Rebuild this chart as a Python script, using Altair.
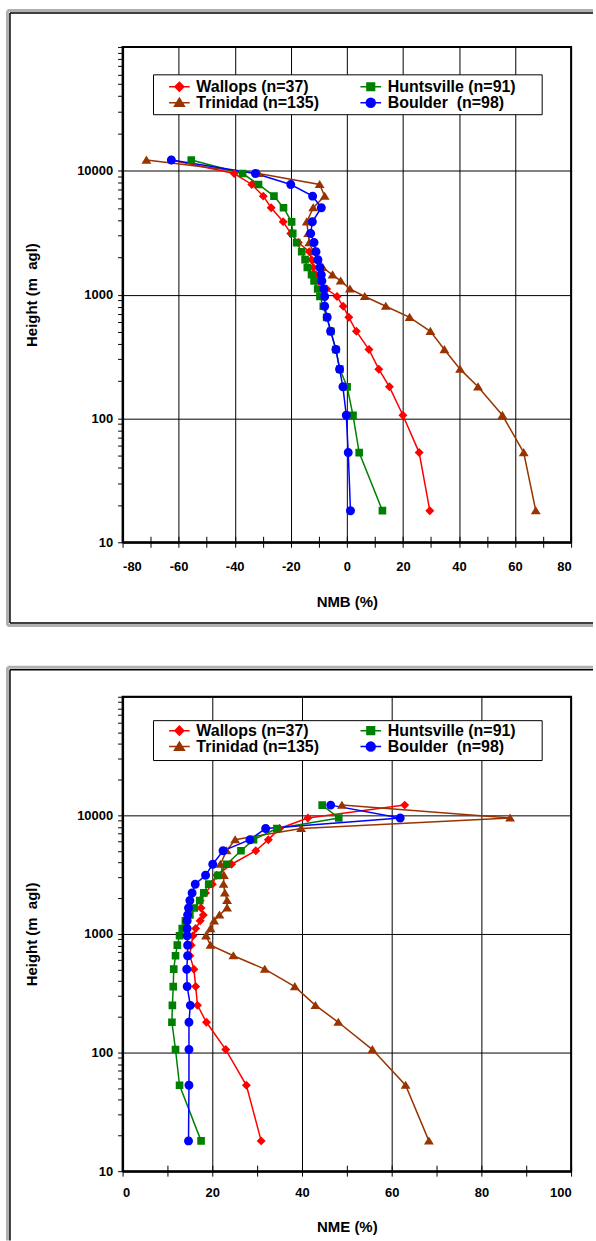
import altair as alt
import pandas as pd

FONT = "Liberation Sans"

# Profile levels (m agl), bottom to top
heights = [18, 53, 106, 180, 250, 360, 505, 655, 805, 965, 1110, 1290, 1445,
           1655, 1915, 2220, 2630, 3120, 3870, 5030, 6240, 7750, 9500, 12200]

# legend fills column by column: Wallops, Trinidad | Huntsville, Boulder
series_names = ["Wallops (n=37)", "Trinidad (n=135)", "Huntsville (n=91)", "Boulder\u00a0 (n=98)"]
series_colors = ["#FF0000", "#993300", "#008000", "#0000FF"]
# marker outline + a horizontal stub (the stub has no area, so it only shows where stroked: in the legend)
series_shapes = [
    "M-2.3,0H2.3M0,-1L1,0L0,1L-1,0Z",
    "M-2.3,0H2.3M0,-1L1.1,0.8L-1.1,0.8Z",
    "M-2.3,0H2.3M-0.85,-0.85H0.85V0.85H-0.85Z",
    "M-2.3,0H2.3M1,0A1,1,0,1,1,-1,0A1,1,0,1,1,1,0Z",
]

# NMB (%) per level
nmb_wallops = [29.6, 25.8, 20.0, 15.2, 11.4, 7.9, 3.4, 0.7, -1.3, -3.5, -7.2, -10.0, -11.0,
               -12.0, -12.6, -13.4, -17.3, -20.0, -22.7, -27.0, -29.8, -33.9, -40.2, -62.6]
nmb_huntsville = [12.7, 4.4, 2.2, 0.1, -2.5, -3.9, -5.7, -7.2, -8.4, -9.6, -10.4, -11.7, -12.6,
                  -14.1, -14.9, -16.1, -17.9, -19.3, -19.7, -22.6, -26.0, -31.5, -37.2, -55.5]
nmb_trinidad = [67.4, 63.1, 55.5, 46.8, 40.4, 34.8, 29.8, 22.4, 13.9, 6.4, 1.1, -2.2, -5.1,
                -8.6, -10.5, -12.0, -13.4, -13.8, -14.3, -12.0, -7.9, -9.7, -31.5, -71.5]
nmb_boulder = [1.3, 0.5, -0.2, -1.4, -2.6, -3.9, -5.8, -7.0, -7.9, -7.9, -8.2, -8.9, -9.1,
               -9.6, -10.3, -11.0, -11.7, -12.9, -12.3, -9.1, -12.2, -20.0, -32.6, -62.6]

# NME (%) per level
nme_wallops = [30.9, 27.6, 23.0, 18.7, 16.7, 16.3, 15.9, 15.0, 15.3, 15.7, 16.3, 17.3, 18.0,
               17.5, 17.3, 18.5, 20.0, 21.0, 24.3, 29.7, 32.5, 35.0, 41.3, 62.9]
nme_huntsville = [17.5, 12.7, 11.8, 11.0, 11.1, 11.3, 11.4, 11.8, 12.2, 12.7, 13.3, 14.0, 15.0,
                  16.0, 17.2, 18.1, 19.2, 21.3, 23.2, 26.4, 29.2, 34.4, 48.2, 44.5]
nme_trinidad = [68.3, 63.1, 55.7, 48.1, 43.0, 38.4, 31.7, 24.7, 19.6, 18.6, 19.6, 20.4, 21.6,
                23.3, 23.3, 22.8, 22.5, 22.6, 21.8, 23.2, 25.1, 39.8, 86.4, 48.9]
nme_boulder = [14.7, 14.8, 14.8, 14.8, 15.1, 14.4, 14.3, 14.5, 14.5, 14.4, 14.4, 14.4, 14.5,
               14.7, 15.0, 15.5, 16.2, 18.5, 20.1, 22.4, 28.4, 31.9, 61.9, 46.4]

nmb_ticks = [-80, -70, -60, -50, -40, -30, -20, -10, 0, 10, 20, 30, 40, 50, 60, 70, 80]
nme_ticks = [0, 10, 20, 30, 40, 50, 60, 70, 80, 90, 100]
height_ticks = [10, 20, 30, 40, 50, 60, 70, 80, 90,
                100, 200, 300, 400, 500, 600, 700, 800, 900,
                1000, 2000, 3000, 4000, 5000, 6000, 7000, 8000, 9000,
                10000, 20000, 30000, 40000, 50000, 60000, 70000, 80000, 90000, 100000]


def make_df(value_lists):
    rows = []
    for name, vals in zip(series_names, value_lists):
        for i, (h, v) in enumerate(zip(heights, vals)):
            rows.append({"series": name, "height": h, "value": v, "idx": i})
    return pd.DataFrame(rows)


DECADE = "abs(log(datum.value)/LN10 - round(log(datum.value)/LN10)) < 0.000001"
MAJOR_X = "datum.value % 20 == 0"


def panel(df, xdomain, xticks, xtitle, plot_h, legend_y, legbox, box, label_pad, title_pad):
    legend = alt.Legend(
        title=None, orient="none", legendX=36, legendY=legend_y, columns=2,
        padding=0, labelFont=FONT, labelFontSize=16, labelFontWeight="bold", labelColor="black",
        symbolSize=81, symbolOffset=13, labelOffset=9, columnPadding=30, rowPadding=0,
        symbolStrokeWidth=1.5,
    )
    cscale = alt.Scale(domain=series_names, range=series_colors)
    color = alt.Color("series:N", scale=cscale, legend=legend)
    stroke = alt.Stroke("series:N", scale=cscale, legend=legend)
    shape = alt.Shape("series:N", scale=alt.Scale(domain=series_names, range=series_shapes), legend=legend)
    xscale = alt.Scale(domain=xdomain, nice=False, zero=False)
    yscale = alt.Scale(type="log", domain=[10, 100000], nice=False)
    yaxis = alt.Axis(
        values=height_ticks, labelExpr=f"({DECADE}) && datum.value < 100000 ? '' + datum.value : ''",
        labelOverlap=False, grid=True, gridColor="black", gridWidth=1,
        gridOpacity={"condition": {"test": DECADE, "value": 1}, "value": 0},
        domainColor="black", domainWidth=2, tickColor="black", tickWidth=1, tickSize=5,
        labelPadding=5, labelFont=FONT, labelFontSize=13, labelFontWeight="bold", labelColor="black",
        titleFont=FONT, titleFontSize=15, titleFontWeight="bold", titleColor="black", titlePadding=37,
    )
    y = alt.Y("height:Q", scale=yscale, axis=yaxis, title="Height (m\u00a0 agl)")
    xaxis_main = alt.Axis(
        values=xticks, labelExpr=f"{MAJOR_X} ? '' + datum.value : ''", labelOverlap=False,
        grid=True, gridColor="black", gridWidth=1,
        gridOpacity={"condition": {"test": MAJOR_X, "value": 1}, "value": 0},
        domainColor="black", domainWidth=2, tickColor="black", tickWidth=1, tickSize=5,
        labelPadding=label_pad, labelFont=FONT, labelFontSize=13, labelFontWeight="bold", labelColor="black",
        titleFont=FONT, titleFontSize=15, titleFontWeight="bold", titleColor="black", titlePadding=title_pad,
    )
    xaxis_inner = alt.Axis(values=xticks, labels=False, domain=False, grid=False, tickColor="black",
                           tickWidth=1, tickSize=6, offset=-6, orient="bottom", title=None)

    base = alt.Chart(df)
    lines = base.mark_line(strokeWidth=1.5).encode(
        x=alt.X("value:Q", scale=xscale, axis=xaxis_main, title=xtitle),
        y=y, color=color, order=alt.Order("idx:Q"),
    )
    pts = base.mark_point(filled=True, size=81, opacity=1).encode(
        x=alt.X("value:Q", scale=xscale, axis=xaxis_inner),
        y=y, color=color, stroke=stroke, shape=shape, strokeWidth=alt.value(0),
    )

    one = pd.DataFrame({"a": [0]})
    lx, ly, lx2, ly2 = legbox
    legend_frame = alt.Chart(one).mark_rect(fill="white", stroke="black", strokeWidth=1).encode(
        x=alt.value(lx), x2=alt.value(lx2), y=alt.value(ly), y2=alt.value(ly2))

    left, top, right, bottom = box  # in plot coordinates (black frame)
    deco = []
    for off, col, sw in [(2.5, "#b0b0b0", 3), (0, "black", 1.5)]:
        l, t = left - off, top - off
        b = bottom + off if bottom is not None else None
        deco.append(alt.Chart(one).mark_rule(color=col, strokeWidth=sw).encode(
            x=alt.value(l), x2=alt.value(right), y=alt.value(t)))
        deco.append(alt.Chart(one).mark_rule(color=col, strokeWidth=sw).encode(
            x=alt.value(l), y=alt.value(t), y2=alt.value(b if b is not None else 545.5)))
        if b is not None:
            deco.append(alt.Chart(one).mark_rule(color=col, strokeWidth=sw).encode(
                x=alt.value(l), x2=alt.value(right), y=alt.value(b)))

    return alt.layer(*deco, legend_frame, lines, pts).resolve_axis(x="independent").properties(
        width=450, height=plot_h)


top = panel(make_df([nmb_wallops, nmb_trinidad, nmb_huntsville, nmb_boulder]),
            [-80, 80], nmb_ticks, "NMB (%)", 497, 32, (31, 28, 421, 68), (-113, -34, 472, 578), 13, 21)
bottom = panel(make_df([nme_wallops, nme_trinidad, nme_huntsville, nme_boulder]),
               [0, 100], nme_ticks, "NME (%)", 476, 26, (31, 24, 421, 64), (-113, -27, 472, None), 10, 21)

chart = alt.vconcat(top, bottom, spacing=37).resolve_scale(
    color="independent", stroke="independent", shape="independent", x="independent", y="independent"
).resolve_legend(
    color="independent", stroke="independent", shape="independent"
).properties(
    padding={"left": 5, "top": 6, "right": 0, "bottom": 0},
    background="white",
).configure_view(stroke="black", strokeWidth=2)

chart.save("out.html", embed_options={"renderer": "svg", "actions": False})
